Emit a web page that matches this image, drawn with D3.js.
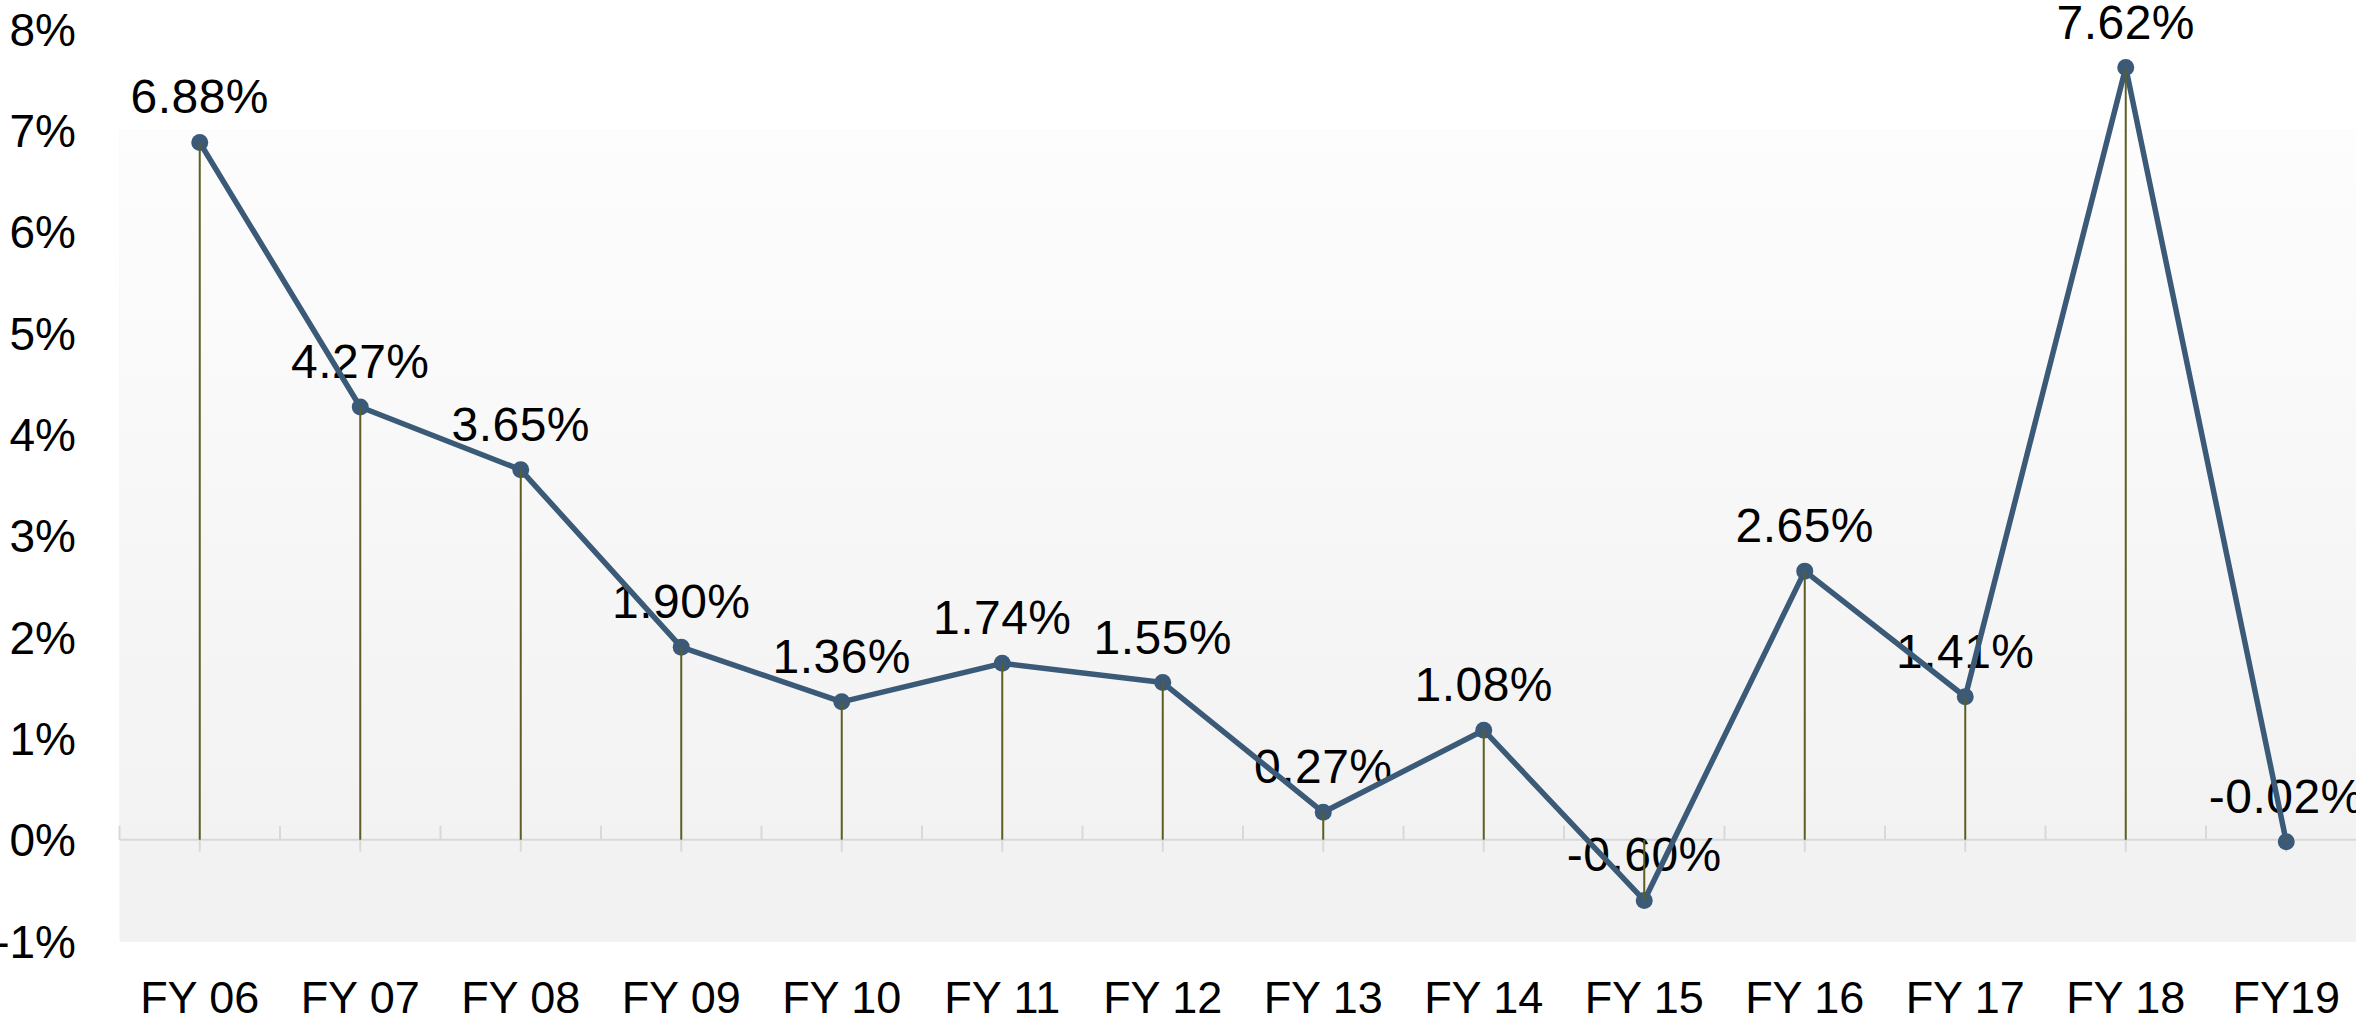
<!DOCTYPE html>
<html>
<head>
<meta charset="utf-8">
<script src="https://cdn.jsdelivr.net/npm/d3@7"></script>
<style>
  html, body { margin: 0; padding: 0; background: #fff; overflow: hidden; }
  text { font-family: "Liberation Sans", Arial, sans-serif; fill: #000; }
</style>
</head>
<body>
<div id="chart"></div>
<script>
// categorias y valores (% de crecimiento)
var years = ["FY 06", "FY 07", "FY 08", "FY 09", "FY 10", "FY 11", "FY 12",
             "FY 13", "FY 14", "FY 15", "FY 16", "FY 17", "FY 18", "FY19"];
var growth = [6.88, 4.27, 3.65, 1.90, 1.36, 1.74, 1.55, 0.27, 1.08, -0.60, 2.65, 1.41, 7.62, -0.02];
var yTicks = [-1, 0, 1, 2, 3, 4, 5, 6, 7, 8];

var data = years.map(function(y, i) {
    return { year: y, value: growth[i] };
});

var width = 2356;
var height = 1023;

var svg = d3.select("#chart")
    .append("svg")
    .attr("width", width)
    .attr("height", height);

var scalex = d3.scaleBand()
    .domain(years)
    .range([119.5, 119.5 + 160.5 * years.length])
    .padding(0);

var scaley = d3.scaleLinear()
    .domain([-1, 8])
    .range([941, 29]);

var cx = function(d) { return scalex(d.year) + scalex.bandwidth() / 2; };

// fondo con degradado
var defs = svg.append("defs");
svg.append("rect")
    .attr("x", scalex.range()[0])
    .attr("y", scaley(7))
    .attr("width", scalex.range()[1] - scalex.range()[0])
    .attr("height", scaley(-1) - scaley(7) + 1)
    .attr("fill", "#f2f2f2");

var g2 = defs.append("linearGradient")
    .attr("id", "bg2")
    .attr("x1", 0).attr("y1", 0).attr("x2", 0).attr("y2", 1);
g2.append("stop").attr("offset", 0).attr("stop-color", "#fdfdfd");
g2.append("stop").attr("offset", 1).attr("stop-color", "#f2f2f2");
svg.append("rect")
    .attr("x", scalex.range()[0])
    .attr("y", scaley(7))
    .attr("width", scalex.range()[1] - scalex.range()[0])
    .attr("height", scaley(0) - scaley(7))
    .attr("fill", "url(#bg2)");

// eje Y
svg.selectAll(".ylab")
    .data(yTicks)
    .enter()
    .append("text")
    .attr("class", "ylab")
    .attr("x", 76)
    .attr("y", function(d) { return scaley(d); })
    .attr("dy", "0.36em")
    .attr("text-anchor", "end")
    .style("font-size", "46px")
    .text(function(d) { return d + "%"; });

// linea de cero y marcas
var y0 = scaley(0);
svg.append("line")
    .attr("x1", scalex.range()[0]).attr("x2", scalex.range()[1])
    .attr("y1", y0).attr("y2", y0)
    .attr("stroke", "#d9d9d9").attr("stroke-width", 2);

svg.selectAll(".tickup")
    .data(years)
    .enter()
    .append("line")
    .attr("x1", function(d) { return scalex(d); })
    .attr("x2", function(d) { return scalex(d); })
    .attr("y1", y0 - 14).attr("y2", y0)
    .attr("stroke", "#d9d9d9").attr("stroke-width", 2);

svg.selectAll(".tickdown")
    .data(years)
    .enter()
    .append("line")
    .attr("x1", function(d) { return scalex(d) + scalex.bandwidth() / 2; })
    .attr("x2", function(d) { return scalex(d) + scalex.bandwidth() / 2; })
    .attr("y1", y0).attr("y2", y0 + 12)
    .attr("stroke", "#d9d9d9").attr("stroke-width", 2);

// etiquetas eje X
svg.selectAll(".xlab")
    .data(years)
    .enter()
    .append("text")
    .attr("class", "xlab")
    .attr("x", function(d) { return scalex(d) + scalex.bandwidth() / 2; })
    .attr("y", 1013)
    .attr("text-anchor", "middle")
    .style("font-size", "45px")
    .text(function(d) { return d; });

// etiquetas de valores
svg.selectAll(".vlab")
    .data(data)
    .enter()
    .append("text")
    .attr("class", "vlab")
    .attr("x", cx)
    .attr("y", function(d) { return scaley(d.value) - 29; })
    .attr("text-anchor", "middle")
    .style("font-size", "48px")
    .style("letter-spacing", "0.5px")
    .text(function(d) { return d.value.toFixed(2) + "%"; });

// linea
var line = d3.line()
    .x(cx)
    .y(function(d) { return scaley(d.value); });

svg.append("path")
    .datum(data)
    .attr("d", line)
    .attr("fill", "none")
    .attr("stroke", "#3b5a78")
    .attr("stroke-width", 5.5)
    .attr("stroke-linejoin", "round");

svg.selectAll("circle")
    .data(data)
    .enter()
    .append("circle")
    .attr("cx", cx)
    .attr("cy", function(d) { return scaley(d.value); })
    .attr("r", 8.5)
    .attr("fill", "#3b5a78");

// lineas de caida
svg.selectAll(".drop")
    .data(data)
    .enter()
    .append("line")
    .attr("class", "drop")
    .attr("x1", cx).attr("x2", cx)
    .attr("y1", function(d) { return scaley(d.value); })
    .attr("y2", y0)
    .attr("stroke", "#5e5e24")
    .attr("stroke-width", 2);
</script>
</body>
</html>
